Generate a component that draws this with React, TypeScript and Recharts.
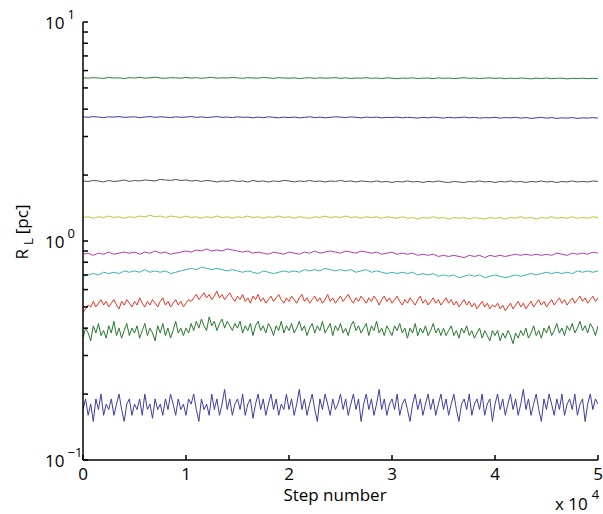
import React from 'react';
import { LineChart, Line, XAxis, YAxis } from 'recharts';

const steps101: number[] = Array.from({ length: 101 }, (_, i) => i * 500);
const steps201: number[] = Array.from({ length: 201 }, (_, i) => i * 250);

const xTicks = [0, 10000, 20000, 30000, 40000, 50000];
const xTickLabels = ['0', '1', '2', '3', '4', '5'];
const yTicks = [0.1, 0.2, 0.3, 0.4, 0.5, 0.6, 0.7, 0.8, 0.9, 1, 2, 3, 4, 5, 6, 7, 8, 9, 10];
const yDecades: Record<string, string> = { '0.1': '\u22121', '1': '0', '10': '1' };

const greenTop = [5.56,5.54,5.57,5.55,5.53,5.58,5.55,5.56,5.52,5.57,
5.55,5.59,5.54,5.56,5.6,5.55,5.53,5.57,5.56,5.54,
5.58,5.55,5.57,5.53,5.56,5.59,5.54,5.56,5.55,5.58,
5.56,5.53,5.57,5.55,5.54,5.58,5.56,5.53,5.57,5.55,
5.54,5.56,5.52,5.55,5.57,5.53,5.56,5.54,5.55,5.57,
5.53,5.56,5.52,5.55,5.54,5.57,5.53,5.55,5.52,5.56,
5.54,5.51,5.55,5.53,5.56,5.52,5.54,5.55,5.51,5.56,
5.53,5.55,5.52,5.54,5.57,5.53,5.55,5.52,5.54,5.56,
5.53,5.55,5.51,5.54,5.52,5.55,5.53,5.5,5.54,5.52,
5.55,5.51,5.53,5.54,5.5,5.53,5.52,5.54,5.51,5.53,5.52];

const blueTop = [3.69,3.67,3.7,3.68,3.66,3.69,3.68,3.7,3.67,3.68,
3.69,3.66,3.68,3.7,3.67,3.69,3.68,3.66,3.69,3.67,
3.68,3.7,3.67,3.69,3.66,3.68,3.7,3.67,3.68,3.66,
3.69,3.67,3.68,3.65,3.68,3.66,3.69,3.67,3.65,3.68,
3.66,3.68,3.65,3.67,3.69,3.66,3.68,3.65,3.67,3.69,
3.68,3.66,3.69,3.67,3.65,3.68,3.66,3.68,3.65,3.67,
3.66,3.68,3.65,3.67,3.66,3.64,3.67,3.65,3.68,3.66,
3.64,3.67,3.65,3.66,3.68,3.65,3.67,3.64,3.66,3.65,
3.67,3.64,3.66,3.65,3.67,3.64,3.66,3.63,3.65,3.67,
3.64,3.66,3.63,3.65,3.64,3.66,3.63,3.65,3.64,3.66,3.64];

const gray = [1.88,1.87,1.89,1.88,1.86,1.89,1.87,1.88,1.9,1.87,
1.89,1.88,1.9,1.89,1.88,1.91,1.9,1.89,1.91,1.89,
1.9,1.88,1.89,1.87,1.89,1.88,1.86,1.88,1.87,1.89,
1.87,1.88,1.86,1.89,1.87,1.88,1.86,1.88,1.87,1.89,
1.88,1.86,1.88,1.87,1.89,1.87,1.88,1.86,1.88,1.87,
1.89,1.87,1.88,1.86,1.88,1.87,1.86,1.88,1.86,1.87,
1.85,1.87,1.86,1.88,1.86,1.87,1.85,1.87,1.86,1.88,
1.86,1.85,1.87,1.86,1.85,1.87,1.86,1.88,1.86,1.87,
1.85,1.87,1.86,1.88,1.86,1.87,1.85,1.87,1.86,1.88,
1.86,1.87,1.85,1.87,1.86,1.88,1.86,1.87,1.86,1.88,1.87];

const yellow = [1.28,1.29,1.27,1.29,1.28,1.3,1.28,1.29,1.27,1.29,
1.28,1.3,1.29,1.31,1.29,1.3,1.28,1.3,1.29,1.28,
1.3,1.28,1.29,1.27,1.29,1.28,1.3,1.28,1.29,1.27,
1.29,1.28,1.3,1.28,1.29,1.27,1.29,1.28,1.3,1.28,
1.29,1.27,1.29,1.28,1.27,1.29,1.28,1.3,1.28,1.29,
1.28,1.3,1.28,1.29,1.27,1.29,1.28,1.29,1.27,1.29,
1.28,1.27,1.29,1.27,1.28,1.26,1.28,1.27,1.29,1.27,
1.28,1.26,1.28,1.27,1.28,1.26,1.28,1.27,1.26,1.28,
1.27,1.28,1.26,1.28,1.27,1.29,1.27,1.28,1.26,1.28,
1.27,1.29,1.27,1.28,1.27,1.29,1.27,1.28,1.27,1.29,1.28];

const magenta = [0.87,0.88,0.86,0.88,0.87,0.89,0.87,0.88,0.89,0.88,
0.89,0.87,0.89,0.88,0.9,0.88,0.89,0.87,0.88,0.89,
0.9,0.89,0.91,0.9,0.92,0.9,0.91,0.9,0.92,0.91,
0.9,0.89,0.9,0.88,0.89,0.88,0.87,0.89,0.88,0.87,
0.89,0.88,0.87,0.89,0.88,0.9,0.88,0.89,0.9,0.89,
0.88,0.9,0.89,0.88,0.9,0.89,0.88,0.89,0.87,0.88,
0.89,0.87,0.88,0.87,0.88,0.86,0.87,0.86,0.87,0.85,
0.86,0.85,0.86,0.85,0.84,0.86,0.85,0.86,0.84,0.86,
0.85,0.86,0.85,0.86,0.87,0.86,0.87,0.86,0.87,0.86,
0.87,0.86,0.88,0.87,0.86,0.88,0.87,0.88,0.87,0.89,0.88];

const cyan = [0.69,0.7,0.71,0.7,0.72,0.71,0.72,0.71,0.73,0.72,
0.73,0.72,0.74,0.72,0.73,0.72,0.73,0.71,0.72,0.73,
0.74,0.75,0.74,0.76,0.75,0.74,0.75,0.74,0.73,0.74,
0.73,0.72,0.73,0.72,0.71,0.73,0.72,0.71,0.72,0.73,
0.72,0.73,0.72,0.74,0.73,0.74,0.73,0.75,0.74,0.73,
0.74,0.73,0.74,0.72,0.73,0.74,0.72,0.73,0.72,0.71,
0.72,0.71,0.72,0.71,0.72,0.7,0.71,0.7,0.71,0.69,
0.7,0.69,0.7,0.68,0.69,0.7,0.69,0.7,0.68,0.69,
0.7,0.69,0.68,0.69,0.7,0.69,0.7,0.71,0.7,0.71,
0.72,0.71,0.72,0.71,0.72,0.71,0.73,0.72,0.73,0.72,0.73];

const red = [0.47,0.49,0.51,0.5,0.53,0.5,0.52,0.54,0.51,0.53,0.5,0.52,0.54,0.51,0.49,0.53,0.51,0.54,0.52,0.5,
0.53,0.51,0.55,0.52,0.5,0.53,0.51,0.54,0.52,0.5,0.53,0.55,0.51,0.53,0.5,0.52,0.54,0.51,0.53,0.5,
0.52,0.54,0.53,0.55,0.57,0.54,0.56,0.58,0.55,0.57,0.54,0.56,0.59,0.55,0.57,0.54,0.56,0.58,0.55,0.53,
0.56,0.54,0.57,0.53,0.55,0.52,0.56,0.54,0.57,0.53,0.55,0.52,0.54,0.56,0.53,0.55,0.57,0.54,0.52,0.55,
0.53,0.56,0.54,0.52,0.55,0.57,0.53,0.55,0.52,0.54,0.56,0.53,0.55,0.52,0.54,0.57,0.53,0.55,0.52,0.54,
0.56,0.53,0.55,0.57,0.54,0.52,0.55,0.53,0.56,0.54,0.52,0.55,0.53,0.56,0.54,0.51,0.54,0.56,0.53,0.55,
0.52,0.54,0.56,0.53,0.51,0.54,0.52,0.55,0.53,0.51,0.54,0.56,0.52,0.54,0.51,0.53,0.55,0.52,0.54,0.51,
0.53,0.55,0.52,0.54,0.51,0.53,0.5,0.52,0.54,0.51,0.53,0.5,0.52,0.49,0.51,0.53,0.5,0.52,0.49,0.51,
0.5,0.52,0.49,0.51,0.48,0.5,0.52,0.49,0.51,0.53,0.5,0.52,0.49,0.51,0.53,0.5,0.52,0.54,0.51,0.53,
0.5,0.52,0.54,0.51,0.53,0.55,0.52,0.54,0.51,0.53,0.55,0.52,0.54,0.56,0.53,0.55,0.52,0.54,0.56,0.53,
0.55];

const greenLow = [0.36,0.4,0.38,0.35,0.41,0.38,0.42,0.37,0.39,0.36,0.41,0.38,0.43,0.37,0.4,0.36,0.39,0.42,0.37,0.4,
0.38,0.41,0.36,0.39,0.42,0.37,0.4,0.38,0.35,0.41,0.38,0.42,0.37,0.4,0.36,0.39,0.43,0.38,0.4,0.37,
0.4,0.38,0.42,0.39,0.43,0.4,0.44,0.41,0.39,0.45,0.41,0.43,0.39,0.42,0.44,0.4,0.43,0.41,0.39,0.42,
0.4,0.43,0.38,0.41,0.39,0.42,0.37,0.41,0.43,0.39,0.41,0.38,0.42,0.4,0.37,0.41,0.39,0.43,0.38,0.41,
0.39,0.42,0.38,0.4,0.43,0.39,0.41,0.37,0.4,0.42,0.38,0.41,0.39,0.43,0.38,0.4,0.42,0.37,0.41,0.39,
0.42,0.38,0.4,0.37,0.41,0.43,0.39,0.41,0.38,0.4,0.42,0.37,0.41,0.39,0.43,0.38,0.4,0.37,0.41,0.39,
0.37,0.41,0.39,0.42,0.38,0.4,0.36,0.4,0.38,0.42,0.37,0.4,0.38,0.41,0.37,0.39,0.42,0.38,0.4,0.37,
0.4,0.37,0.39,0.41,0.37,0.39,0.36,0.4,0.38,0.41,0.37,0.39,0.36,0.38,0.4,0.36,0.39,0.37,0.35,0.39,
0.37,0.39,0.35,0.38,0.36,0.39,0.37,0.34,0.38,0.36,0.39,0.37,0.4,0.36,0.38,0.41,0.37,0.39,0.36,0.4,
0.38,0.41,0.37,0.39,0.42,0.38,0.4,0.37,0.41,0.39,0.42,0.38,0.4,0.43,0.39,0.41,0.38,0.42,0.4,0.37,
0.41];

const blueLow = [0.17,0.19,0.16,0.18,0.15,0.19,0.17,0.2,0.16,0.18,0.17,0.19,0.16,0.18,0.2,0.17,0.15,0.18,0.19,0.16,
0.18,0.17,0.19,0.16,0.2,0.17,0.18,0.155,0.19,0.17,0.18,0.16,0.19,0.17,0.2,0.18,0.16,0.19,0.17,0.18,
0.16,0.19,0.18,0.2,0.17,0.15,0.19,0.17,0.18,0.16,0.2,0.17,0.19,0.16,0.18,0.21,0.17,0.19,0.16,0.18,
0.19,0.17,0.2,0.16,0.18,0.19,0.155,0.18,0.2,0.17,0.19,0.16,0.18,0.2,0.17,0.19,0.16,0.18,0.17,0.2,
0.17,0.19,0.16,0.18,0.21,0.17,0.19,0.16,0.18,0.2,0.17,0.15,0.19,0.17,0.2,0.18,0.16,0.19,0.17,0.18,
0.2,0.17,0.19,0.16,0.18,0.2,0.17,0.19,0.15,0.18,0.2,0.17,0.19,0.16,0.18,0.21,0.17,0.19,0.16,0.18,
0.19,0.17,0.2,0.16,0.18,0.19,0.17,0.15,0.18,0.2,0.17,0.19,0.16,0.18,0.2,0.17,0.19,0.16,0.18,0.2,
0.17,0.19,0.16,0.18,0.2,0.17,0.15,0.18,0.19,0.17,0.2,0.16,0.18,0.19,0.17,0.2,0.16,0.18,0.19,0.15,
0.18,0.2,0.17,0.19,0.16,0.18,0.2,0.17,0.19,0.16,0.18,0.21,0.17,0.19,0.16,0.18,0.2,0.17,0.15,0.19,
0.17,0.2,0.18,0.16,0.19,0.17,0.2,0.16,0.18,0.19,0.17,0.2,0.16,0.18,0.19,0.15,0.18,0.2,0.17,0.19,
0.18];

const series = [
  { key: 'greenTop', values: greenTop, steps: steps101, color: '#2b8038' },
  { key: 'blueTop', values: blueTop, steps: steps101, color: '#3a3aa0' },
  { key: 'gray', values: gray, steps: steps101, color: '#505050' },
  { key: 'yellow', values: yellow, steps: steps101, color: '#c2c234' },
  { key: 'magenta', values: magenta, steps: steps101, color: '#b03cb0' },
  { key: 'cyan', values: cyan, steps: steps101, color: '#3cb2b2' },
  { key: 'red', values: red, steps: steps201, color: '#e8331f' },
  { key: 'greenLow', values: greenLow, steps: steps201, color: '#25792c' },
  { key: 'blueLow', values: blueLow, steps: steps201, color: '#3d3da0' },
];

const FONT = '"Open Sans", "DejaVu Sans", sans-serif';

const XTick = (props: any) => {
  const { x, payload } = props;
  const idx = xTicks.indexOf(payload.value);
  return (
    <text x={x} y={480} textAnchor="middle" fontSize={17} fontFamily={FONT} fill="#000">
      {xTickLabels[idx]}
    </text>
  );
};

const YTick = (props: any) => {
  const { y, payload } = props;
  const sup = yDecades[String(payload.value)];
  if (sup === undefined) return <g />;
  return (
    <text x={45} y={y + 7} fontSize={17} fontFamily={FONT} fill="#000">
      10
      <tspan dx={3} dy={-10} fontSize={13}>{sup}</tspan>
    </text>
  );
};

const Empty = () => <g />;

export default function App() {
  return (
    <div style={{ position: 'absolute', left: 0, top: 0, width: 603, height: 514, background: '#fff' }}>
      <LineChart
        width={603}
        height={514}
        margin={{ top: 22, right: 5, bottom: 24, left: 0 }}
      >
        <XAxis
          xAxisId="b"
          dataKey="step"
          type="number"
          domain={[0, 50000]}
          allowDataOverflow
          ticks={xTicks}
          orientation="bottom"
          height={30}
          tickSize={-5}
          tickMargin={0}
          tick={<XTick />}
          stroke="#000"
          strokeWidth={1.5}
          interval={0}
        />
        <XAxis
          xAxisId="t"
          dataKey="step"
          type="number"
          domain={[0, 50000]}
          allowDataOverflow
          ticks={xTicks}
          orientation="top"
          height={0}
          tickSize={-5}
          tick={<Empty />}
          stroke="#000"
          strokeWidth={1.5}
          interval={0}
        />
        <YAxis
          yAxisId="l"
          type="number"
          scale="log"
          domain={[0.1, 10]}
          allowDataOverflow
          ticks={yTicks}
          width={83}
          tickSize={-5}
          tick={<YTick />}
          stroke="#000"
          strokeWidth={1.5}
          interval={0}
        />
        <YAxis
          yAxisId="r"
          type="number"
          scale="log"
          domain={[0.1, 10]}
          allowDataOverflow
          ticks={yTicks}
          orientation="right"
          width={0}
          tickSize={-5}
          tick={<Empty />}
          stroke="#000"
          strokeWidth={1.5}
          interval={0}
        />
        {series.map((se) => (
          <Line
            key={se.key}
            xAxisId="b"
            yAxisId="l"
            data={se.steps.map((s, i) => ({ step: s, v: se.values[i] }))}
            dataKey="v"
            stroke={se.color}
            strokeWidth={1}
            dot={false}
            isAnimationActive={false}
          />
        ))}
        <text x={335} y={501} textAnchor="middle" fontSize={17} fontFamily={FONT} fill="#000">
          Step number
        </text>
        <text x={555} y={510} fontSize={17} fontFamily={FONT} fill="#000">
          x 10
          <tspan dx={4} dy={-11} fontSize={13}>4</tspan>
        </text>
        <text
          x={28}
          y={232}
          transform="rotate(-90, 28, 232)"
          textAnchor="middle"
          fontSize={17}
          fontFamily={FONT}
          fill="#000"
        >
          R
          <tspan dx={4} dy={5} fontSize={13}>L</tspan>
          <tspan dx={4} dy={-5}>[pc]</tspan>
        </text>
      </LineChart>
    </div>
  );
}
